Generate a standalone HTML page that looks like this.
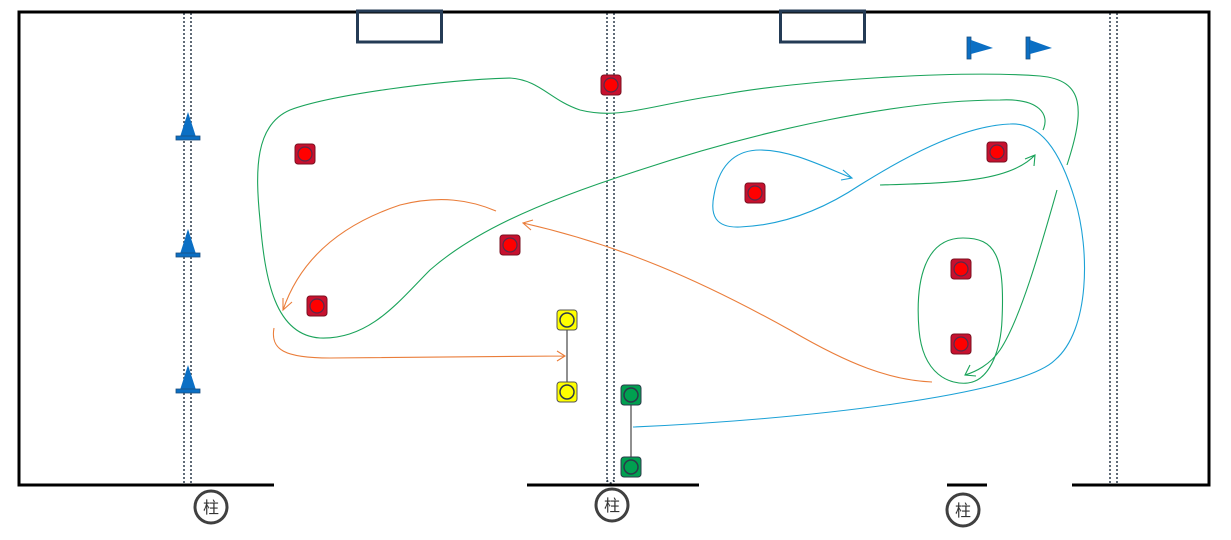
<!DOCTYPE html>
<html><head><meta charset="utf-8"><style>
html,body{margin:0;padding:0;background:#fff;width:1231px;height:540px;overflow:hidden}
svg{display:block}
text{font-family:"Liberation Sans","Noto Sans CJK SC",sans-serif}
</style></head><body>
<svg width="1231" height="540" viewBox="0 0 1231 540" xmlns="http://www.w3.org/2000/svg">
<defs>
<g id="red"><rect x="-10" y="-10" width="20" height="20" rx="3" fill="#c8102e" stroke="#7a1020" stroke-width="1"/><circle r="7" fill="#ff0000" stroke="#5a2a4a" stroke-width="1.2"/></g>
<g id="yel"><rect x="-10" y="-10" width="20" height="20" rx="3" fill="#ffff00" stroke="#555" stroke-width="1"/><circle r="7" fill="#ffff00" stroke="#2b3a4a" stroke-width="1.5"/></g>
<g id="grn"><rect x="-10" y="-10" width="20" height="20" rx="3" fill="#00a050" stroke="#2b3a4a" stroke-width="1"/><circle r="7" fill="#00a050" stroke="#2b3a4a" stroke-width="1.5"/></g>
<g id="cone"><polygon points="0,-27 -8,-2 8,-2" fill="#0b6fc4"/><rect x="-12" y="-3" width="24" height="4" fill="#0b6fc4" stroke="#1b4f80" stroke-width="0.8"/></g>
<g id="flag"><rect x="-2" y="-11" width="4" height="22" fill="#0b6fc4" stroke="#1b4f80" stroke-width="0.8"/><polygon points="2,-8 24,0 2,6" fill="#0b6fc4"/></g>
</defs>
<!-- pillars -->
<g stroke="#2b3a4a" stroke-width="1.5" stroke-dasharray="2,2" fill="none">
<line x1="184" y1="13" x2="184" y2="485"/><line x1="191" y1="13" x2="191" y2="485"/>
<line x1="607" y1="13" x2="607" y2="482"/><line x1="614" y1="13" x2="614" y2="482"/>
<path d="M607 480 Q610 486 614 480"/>
<line x1="1110" y1="13" x2="1110" y2="485"/><line x1="1117" y1="13" x2="1117" y2="485"/>
</g>
<!-- field border -->
<g stroke="#000" stroke-width="3" fill="none">
<polyline points="274,485 19,485 19,12 1209,12 1209,485 1072,485"/>
<line x1="527" y1="485" x2="699" y2="485"/>
<line x1="947" y1="485" x2="987" y2="485"/>
</g>
<!-- goals -->
<rect x="357.5" y="11" width="84" height="31" fill="none" stroke="#243b55" stroke-width="3"/>
<rect x="780.5" y="11" width="84" height="31" fill="none" stroke="#243b55" stroke-width="3"/>
<!-- cones, flags -->
<use href="#cone" x="188" y="139"/><use href="#cone" x="188" y="256"/><use href="#cone" x="188" y="392"/>
<use href="#flag" x="969" y="48"/><use href="#flag" x="1028" y="48"/>
<!-- curves -->
<g fill="none" stroke-width="1.1">
<path stroke="#1aa35a" d="M1067 165 C1085 110 1085 80 1040 76 C960 70 800 80 720 95 C650 105 620 120 580 110 C550 100 540 80 510 78 C440 80 330 95 290 110 C255 125 255 170 260 220 C265 280 275 335 320 338 C370 340 400 300 430 270 C470 235 530 205 640 170 C760 130 900 100 1000 100 C1040 98 1050 115 1043 130"/>
<path stroke="#1aa35a" d="M880 185 C950 183 1010 182 1035 155 M1025 159 L1035 155 L1034 166"/>
<path stroke="#1aa35a" d="M1057 190 C1040 250 1020 320 1000 350 C990 365 975 372 965 375 M970 365 L965 375 L976 376"/>
<path stroke="#1aa35a" d="M1002 320 C1005 255 995 238 963 238 C925 238 915 280 919 330 C923 375 950 385 968 383 C992 380 1001 345 1002 320"/>
<path stroke="#1ba1d6" d="M633 427 C800 420 1020 395 1055 360 C1090 330 1090 250 1075 200 C1060 150 1040 122 1010 124 C960 126 900 160 860 185 C830 205 790 225 740 227 C715 228 710 215 714 195 C720 160 740 150 760 150 C790 150 820 165 852 178 M843 170 L852 178 L841 180"/>
<path stroke="#ea7d3a" d="M496 211 C470 200 440 195 400 205 C340 225 300 260 283 310 M283 298 L283 310 L292 302"/>
<path stroke="#ea7d3a" d="M274 328 C270 350 285 358 330 358 L565 356 M557 351 L565 356 L557 361"/>
<path stroke="#ea7d3a" d="M932 382 C890 380 850 365 790 330 C700 280 620 245 523 223 M533 220 L523 223 L531 230"/>
</g>
<line x1="567" y1="320" x2="567" y2="392" stroke="#222" stroke-width="1"/>
<line x1="631" y1="395" x2="631" y2="467" stroke="#222" stroke-width="1"/>
<use href="#red" x="611" y="85"/><use href="#red" x="305" y="154"/><use href="#red" x="510" y="245"/><use href="#red" x="317" y="306"/>
<use href="#red" x="755" y="193"/><use href="#red" x="997" y="152"/><use href="#red" x="961" y="269"/><use href="#red" x="961" y="344"/>
<use href="#yel" x="567" y="320"/><use href="#yel" x="567" y="392"/>
<use href="#grn" x="631" y="395"/><use href="#grn" x="631" y="467"/>
<g fill="#fff" stroke="#404040" stroke-width="3">
<circle cx="211" cy="507" r="16"/><circle cx="612" cy="505" r="16"/><circle cx="963" cy="510" r="16"/>
</g>
<g font-size="16" fill="#333" text-anchor="middle">
<text x="211" y="513">柱</text><text x="612" y="511">柱</text><text x="963" y="516">柱</text>
</g>
</svg>
</body></html>
